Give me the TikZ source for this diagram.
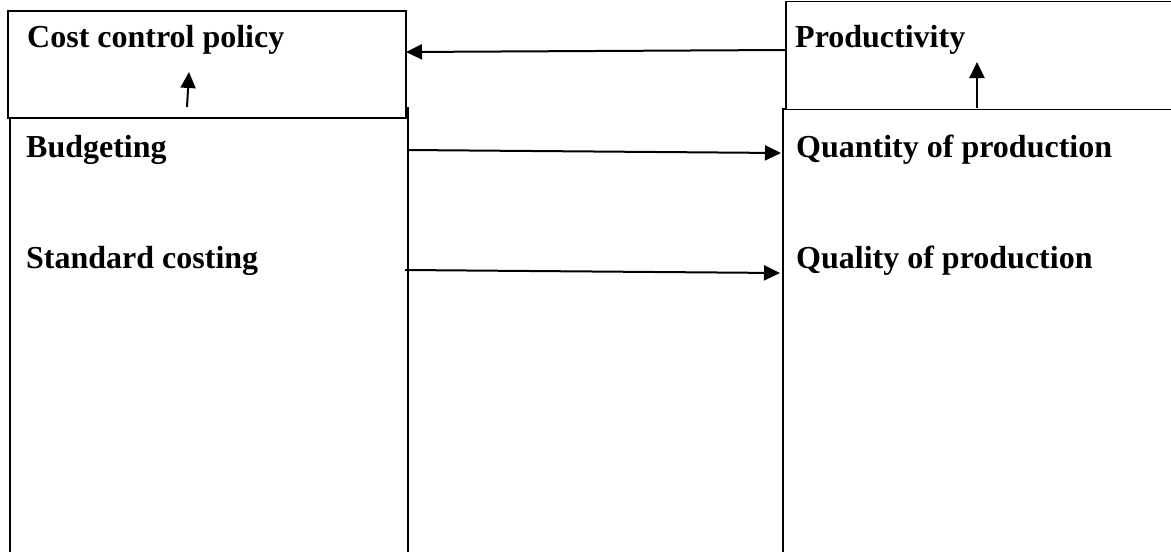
\documentclass[tikz,border=0pt]{standalone}
\usepackage{fontspec}
\setmainfont{Liberation Serif}
\usetikzlibrary{arrows.meta}
\begin{document}
\begin{tikzpicture}[x=1pt,y=-1pt,
  box/.style={draw=black, fill=white, line width=1.8pt, rectangle, inner sep=0pt, anchor=north west},
  lbl/.style={inner sep=0pt, anchor=base west, font=\fontsize{32}{38}\selectfont\bfseries},
  link/.style={line width=2pt, -{Triangle[length=16pt,width=15pt]}}]
  \useasboundingbox (0,0) rectangle (1171,552);
  \clip (0,0) rectangle (1171,552);

  % lower boxes (run past the page edges)
  \node[box, minimum width=398pt, minimum height=460pt] (leftcol) at (9,107) {};
  \node[box, line width=2.2pt, minimum width=420pt, minimum height=460pt] (rightcol) at (782,108) {};

  % upper boxes
  \node[box, minimum width=398pt, minimum height=107pt] (cost) at (7,10) {};
  \node[box, minimum width=420pt, minimum height=108pt] (prod) at (785,0.5) {};

  % labels
  \node[lbl] (tcost) at (27,47) {Cost control policy};
  \node[lbl] (tprod) at (795,47) {Productivity};
  \node[lbl] (tbud) at (26,157) {Budgeting};
  \node[lbl] (tstd) at (26,268) {Standard costing};
  \node[lbl] (tqty) at (796,157) {Quantity of production};
  \node[lbl] (tqlt) at (796,268) {Quality of production};

  % connector end points on the box edges
  \coordinate (pW) at (785,50);
  \coordinate (cE) at (406,52);
  \coordinate (bS) at (407,150);
  \coordinate (qW) at (781,153);
  \coordinate (sS) at (405,270);
  \coordinate (lW) at (780,273);
  \coordinate (cUp0) at (187,107);
  \coordinate (cUp1) at (189,72);
  \coordinate (pUp0) at (977,108);
  \coordinate (pUp1) at (977,62);

  \draw[link] (pW) -- (cE);
  \draw[link] (bS) -- (qW);
  \draw[link] (sS) -- (lW);
  \draw[link] (cUp0) -- (cUp1);
  \draw[link] (pUp0) -- (pUp1);
\end{tikzpicture}
\end{document}
